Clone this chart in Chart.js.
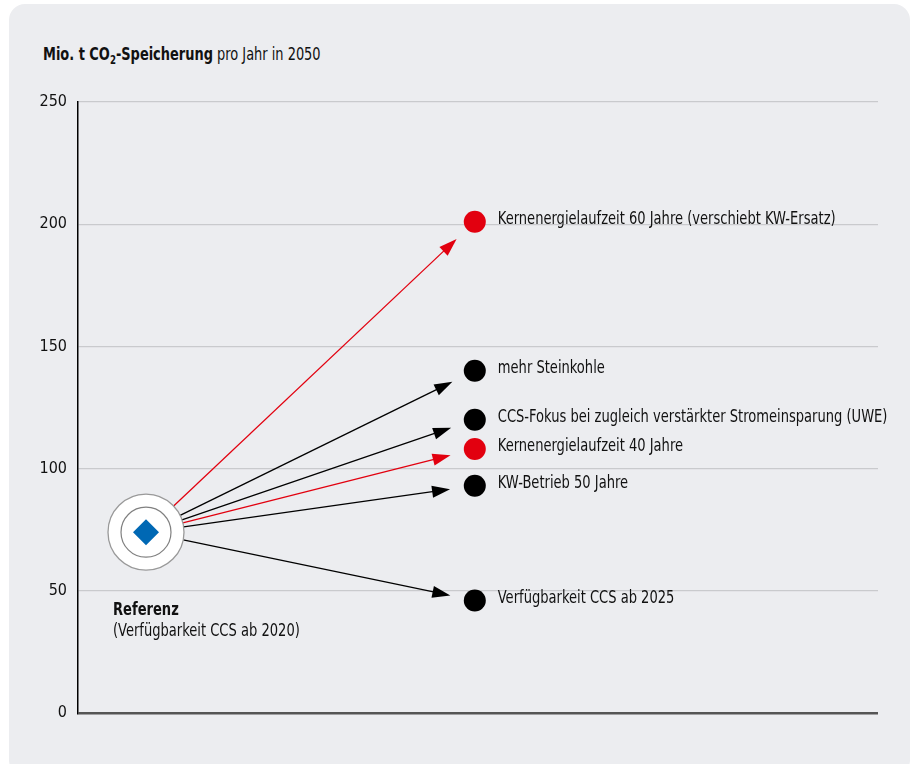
<!DOCTYPE html>
<html>
<head>
<meta charset="utf-8">
<script src="https://cdn.jsdelivr.net/npm/chart.js@4"></script>
<style>
  html, body { margin: 0; padding: 0; background: #fff; overflow: hidden; }
  #wrap { position: relative; width: 912px; height: 764px; }
  #panel { position: absolute; left: 9px; top: 4px; width: 901px; height: 772px;
           border-radius: 16px; background: #ecedf0; }
  #title { position: absolute; left: 43px; top: 43px; font-family: "DejaVu Sans Condensed", sans-serif;
           font-size: 18px; color: #111; white-space: nowrap;
           transform: scaleX(0.8); transform-origin: left center; }
  #title sub { font-size: 12px; vertical-align: -4px; line-height: 0; }
  canvas { position: absolute; left: 0; top: 0; }
</style>
</head>
<body>
<div id="wrap">
  <div id="panel"></div>
  <div id="title"><b>Mio. t CO<sub>2</sub>-Speicherung</b> pro Jahr in 2050</div>
  <canvas id="chart" width="912" height="764"></canvas>
</div>
<script>
const FONT = '"DejaVu Sans Condensed", sans-serif';
const SQUEEZE = 0.855;

// Referenz
const refLabel = "Referenz";
const refNote = "(Verfügbarkeit CCS ab 2020)";
const refX = 8.5;
const refValue = 74;

// Szenarien
const scenarios = [
  "Kernenergielaufzeit 60 Jahre (verschiebt KW-Ersatz)",
  "mehr Steinkohle",
  "CCS-Fokus bei zugleich verstärkter Stromeinsparung (UWE)",
  "Kernenergielaufzeit 40 Jahre",
  "KW-Betrieb 50 Jahre",
  "Verfügbarkeit CCS ab 2025"
];
const scenarioValues = [201, 140, 120, 108, 93, 46];
const scenarioColors = ["#e2000f", "#000000", "#000000", "#e2000f", "#000000", "#000000"];
const scenarioX = 49.6;

const yTicks = [0, 50, 100, 150, 200, 250];

function squeezedText(ctx, text, x, y) {
  ctx.save();
  ctx.translate(x, y);
  ctx.scale(SQUEEZE, 1);
  ctx.fillText(text, 0, 0);
  ctx.restore();
}

const arrowPlugin = {
  id: "arrows",
  beforeDatasetsDraw(chart) {
    const { ctx, scales } = chart;
    const x0 = scales.x.getPixelForValue(refX);
    const y0 = scales.y.getPixelForValue(refValue);
    ctx.save();
    scenarioValues.forEach((v, i) => {
      const x1 = scales.x.getPixelForValue(scenarioX);
      const y1 = scales.y.getPixelForValue(v);
      const dx = x1 - x0, dy = y1 - y0;
      const len = Math.hypot(dx, dy);
      const ux = dx / len, uy = dy / len;
      const sx = x0 + ux * 38, sy = y0 + uy * 38;
      const tx = x1 - ux * 25, ty = y1 - uy * 25;
      const head = 18, half = 6;
      const bx = tx - ux * head, by = ty - uy * head;
      ctx.strokeStyle = scenarioColors[i];
      ctx.fillStyle = scenarioColors[i];
      ctx.lineWidth = 1.3;
      ctx.beginPath();
      ctx.moveTo(sx, sy);
      ctx.lineTo(bx + ux * 2, by + uy * 2);
      ctx.stroke();
      ctx.beginPath();
      ctx.moveTo(tx, ty);
      ctx.lineTo(bx - uy * half, by + ux * half);
      ctx.lineTo(bx + uy * half, by - ux * half);
      ctx.closePath();
      ctx.fill();
    });
    ctx.restore();
  },
  afterDatasetsDraw(chart) {
    const { ctx, scales } = chart;
    ctx.save();
    ctx.fillStyle = "#111";
    ctx.textBaseline = "middle";
    ctx.textAlign = "left";
    ctx.font = "17px " + FONT;
    scenarioValues.forEach((v, i) => {
      const x = scales.x.getPixelForValue(scenarioX);
      const y = scales.y.getPixelForValue(v);
      squeezedText(ctx, scenarios[i], x + 23, y - 2);
    });
    const rx = scales.x.getPixelForValue(refX);
    const ry = scales.y.getPixelForValue(refValue);
    ctx.font = "bold 17px " + FONT;
    squeezedText(ctx, refLabel, rx - 33, ry + 78);
    ctx.font = "17px " + FONT;
    squeezedText(ctx, refNote, rx - 33, ry + 99);
    ctx.restore();
  }
};

new Chart(document.getElementById("chart"), {
  type: "scatter",
  data: {
    datasets: [
      {
        data: [{ x: refX, y: refValue }],
        pointStyle: "rectRot",
        pointRadius: 13,
        backgroundColor: "#0068b4",
        borderWidth: 0,
        order: 0
      },
      {
        data: [{ x: refX, y: refValue }],
        pointStyle: "circle",
        pointRadius: 25,
        backgroundColor: "#ffffff",
        borderColor: "#808080",
        borderWidth: 1.2,
        order: 1
      },
      {
        data: [{ x: refX, y: refValue }],
        pointStyle: "circle",
        pointRadius: 38,
        backgroundColor: "#ffffff",
        borderColor: "#999999",
        borderWidth: 1.3,
        order: 2
      },
      {
        data: scenarioValues.map(v => ({ x: scenarioX, y: v })),
        pointStyle: "circle",
        pointRadius: 11,
        backgroundColor: scenarioColors,
        borderWidth: 0,
        order: 3
      }
    ]
  },
  options: {
    responsive: false,
    animation: false,
    events: [],
    clip: false,
    layout: { autoPadding: false, padding: { top: 102, bottom: 51, left: 0, right: 34 } },
    plugins: { legend: { display: false }, tooltip: { enabled: false } },
    scales: {
      x: { type: "linear", min: 0, max: 100, display: false },
      y: {
        min: 0,
        max: 250,
        afterFit(scale) { scale.width = 78; },
        afterBuildTicks(scale) { scale.ticks = yTicks.map(v => ({ value: v })); },
        border: { display: true, color: "#000", width: 1.5 },
        grid: {
          drawTicks: false,
          color: ctx => ctx.tick && ctx.tick.value === 0 ? "#555555" : "#c9cacd",
          lineWidth: ctx => ctx.tick && ctx.tick.value === 0 ? 2.5 : 1.2
        },
        ticks: {
          padding: 11,
          color: "#111",
          font: { family: FONT, size: 16 }
        }
      }
    }
  },
  plugins: [arrowPlugin]
});
</script>
</body>
</html>
